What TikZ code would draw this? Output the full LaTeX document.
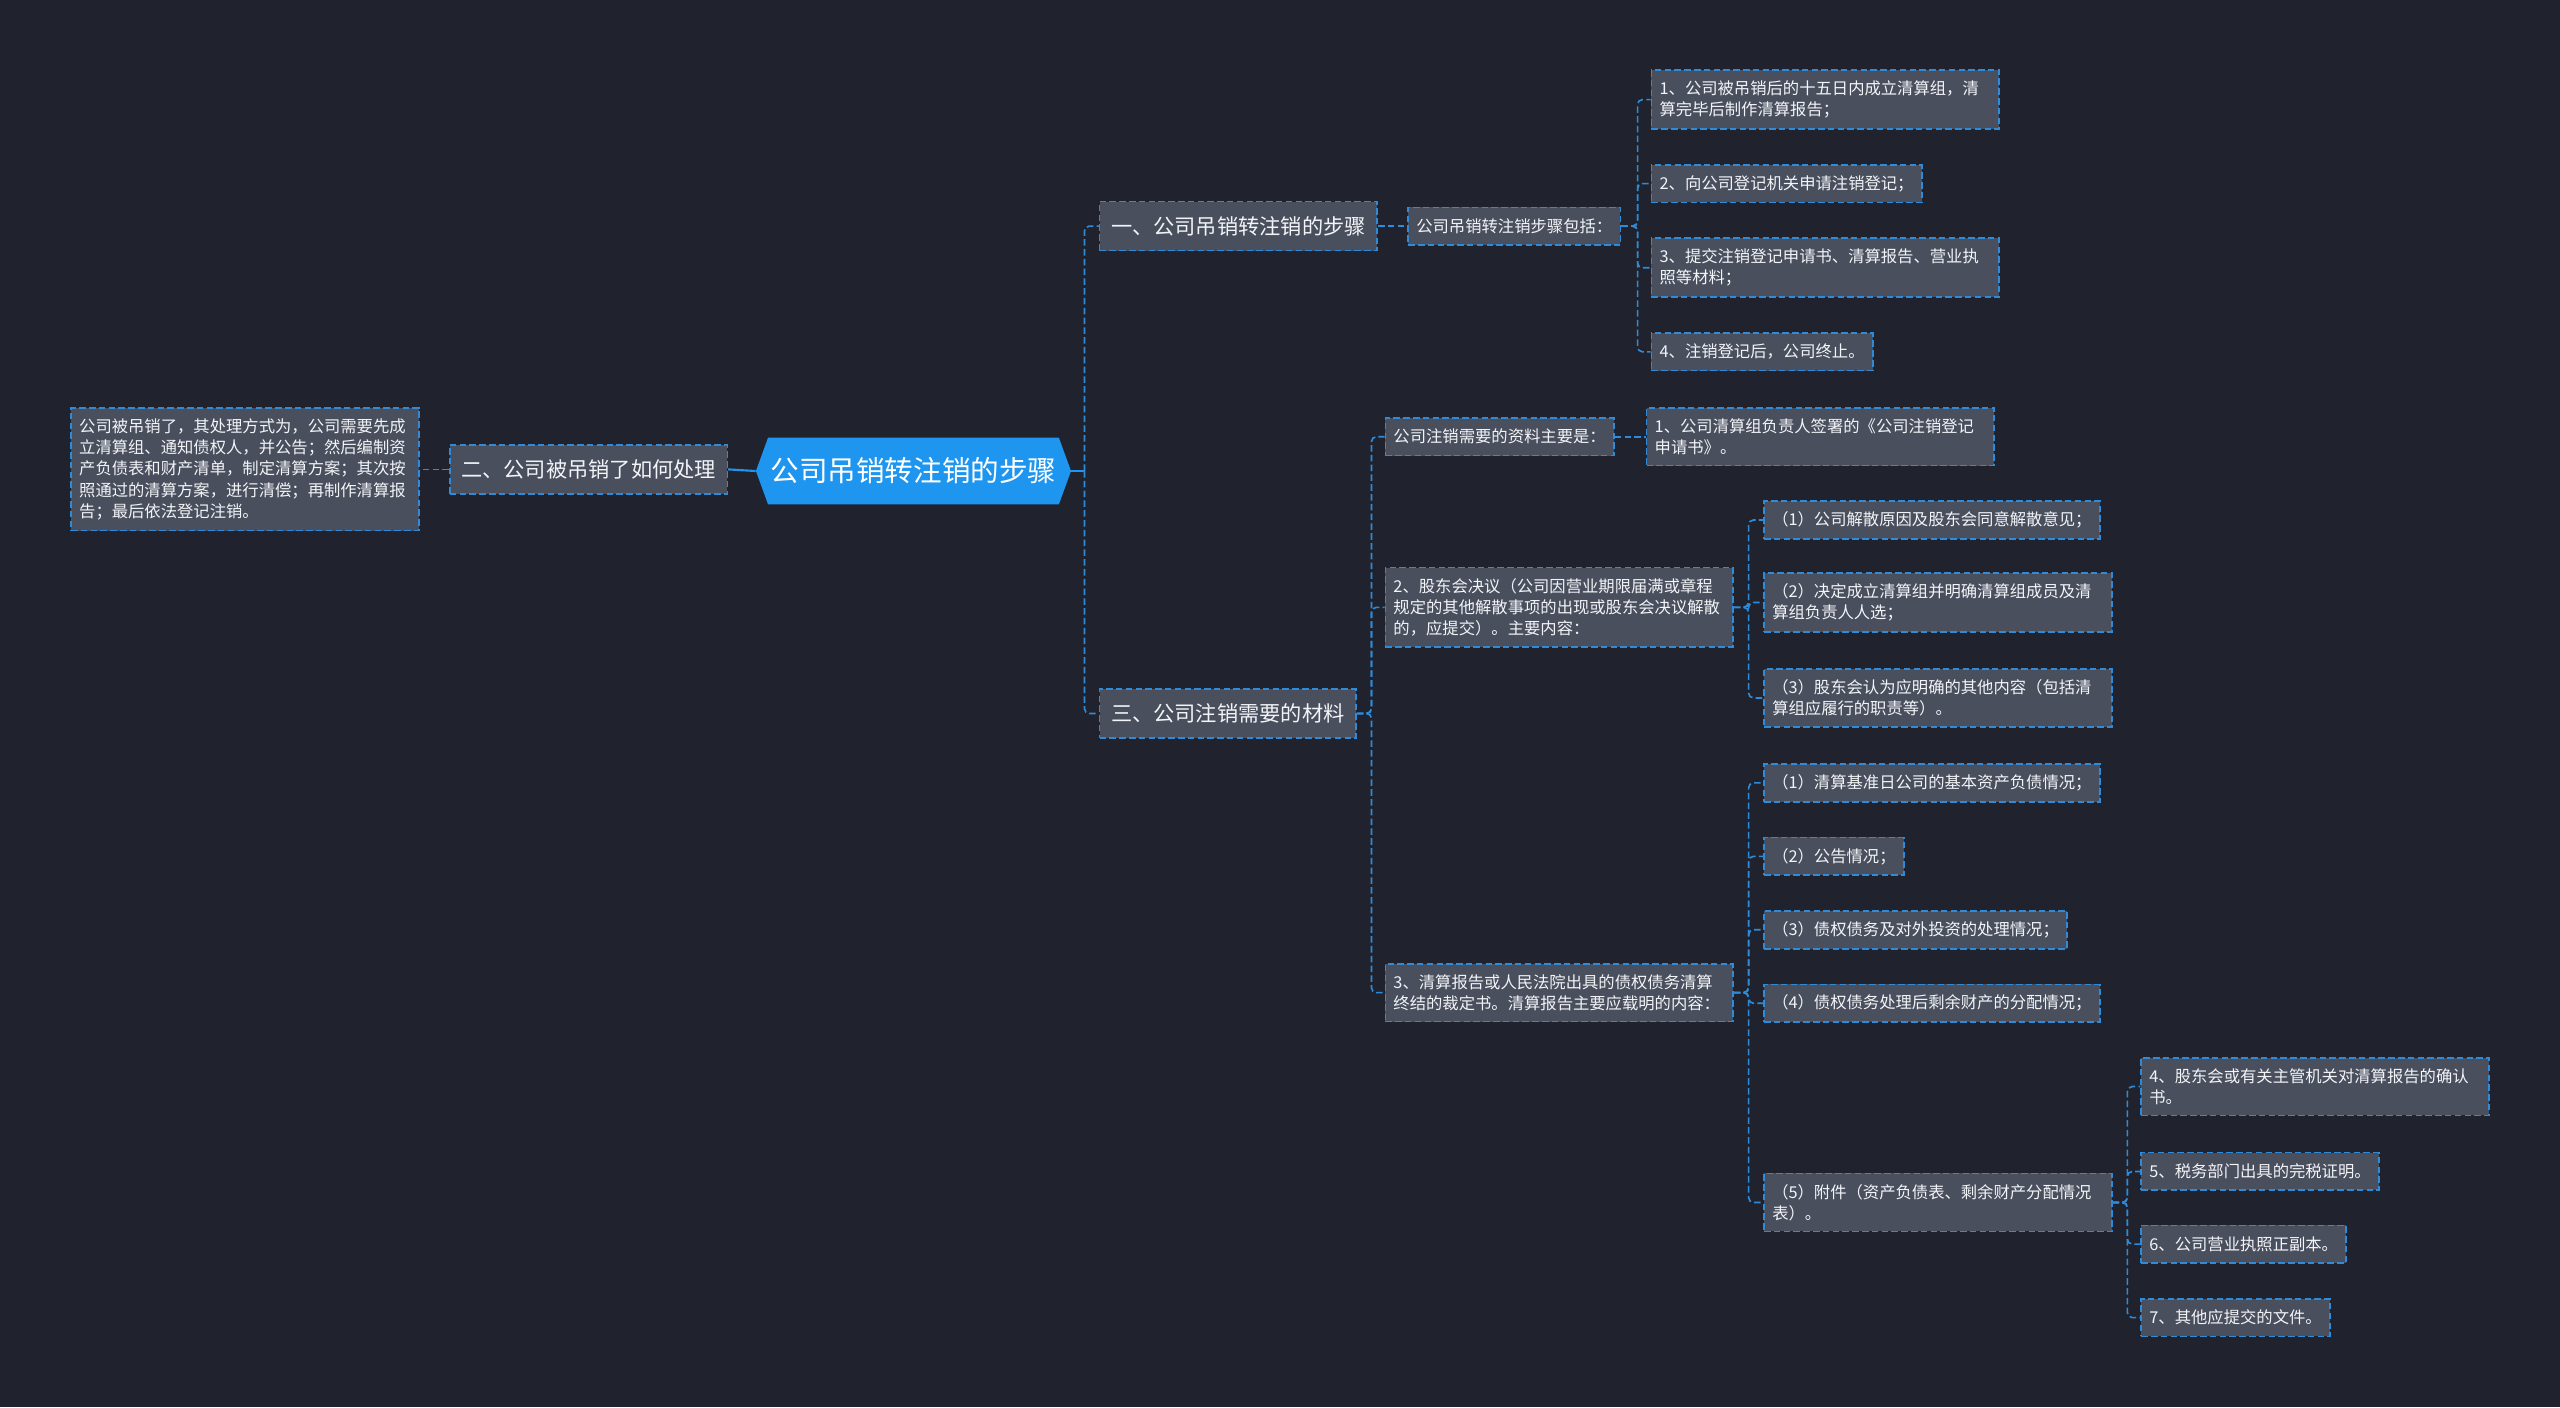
\documentclass[tikz,border=0pt]{standalone}
\usepackage{fontspec}
\setmainfont{Noto Sans CJK SC}
\usetikzlibrary{shapes.symbols, positioning}
\definecolor{bgdark}{HTML}{20232D}
\definecolor{boxgray}{HTML}{4A4F5E}
\definecolor{linkblue}{HTML}{2E8BDA}
\definecolor{rootblue}{HTML}{1E96EF}
\definecolor{textwhite}{HTML}{F2F4F7}
\tikzstyle{central} = [signal, signal to=east and west, signal pointer angle=140, fill=rootblue, text=white, minimum width=193pt, minimum height=41pt, inner sep=0pt, font=\fontsize{17.5}{20}\selectfont]
\tikzstyle{topic} = [rectangle, draw=linkblue, dash pattern=on 4pt off 2pt, line width=1pt, fill=boxgray, text=textwhite, anchor=west, minimum height=30pt, inner xsep=7pt, font=\fontsize{13}{16}\selectfont]
\tikzstyle{leaf} = [rectangle, draw=linkblue, dash pattern=on 4pt off 2pt, line width=1pt, fill=boxgray, text=textwhite, anchor=west, minimum height=23pt, inner xsep=5pt, inner ysep=6.5pt, align=left, font=\fontsize{10}{13}\selectfont]
\tikzstyle{leafwide} = [leaf, text width=203pt]
\tikzstyle{link} = [draw=linkblue, dash pattern=on 4pt off 2pt, line width=1pt, rounded corners=3pt]
\tikzstyle{rootlink} = [draw=rootblue, line width=1.3pt]

\begin{document}
\begin{tikzpicture}[x=1pt, y=-1pt]
    \fill [bgdark] (0,0) rectangle (1568,862);

    % Nodes
    \node (root) [central] at (559.5,288.5) {公司吊销转注销的步骤};

    \node (h2) [topic] at (275,287.5) {二、公司被吊销了如何处理};
    \node (l2) [leafwide] at (43,287.5) {公司被吊销了，其处理方式为，公司需要先成\\立清算组、通知债权人，并公告；然后编制资\\产负债表和财产清单，制定清算方案；其次按\\照通过的清算方案，进行清偿；再制作清算报\\告；最后依法登记注销。};

    \node (h1) [topic] at (673,138.5) {一、公司吊销转注销的步骤};
    \node (s1) [leaf, right=18pt of h1] {公司吊销转注销步骤包括：};
    \node (s1a) [leafwide] at (1011,61) {1、公司被吊销后的十五日内成立清算组，清\\算完毕后制作清算报告；};
    \node (s1b) [leaf] at (1011,112.5) {2、向公司登记机关申请注销登记；};
    \node (s1c) [leafwide] at (1011,164) {3、提交注销登记申请书、清算报告、营业执\\照等材料；};
    \node (s1d) [leaf] at (1011,215.5) {4、注销登记后，公司终止。};

    \node (h3) [topic] at (673,437) {三、公司注销需要的材料};
    \node (m1) [leaf] at (848,267.5) {公司注销需要的资料主要是：};
    \node (m1a) [leafwide, right=19pt of m1] {1、公司清算组负责人签署的《公司注销登记\\申请书》。};

    \node (m2) [leafwide] at (848,372) {2、股东会决议（公司因营业期限届满或章程\\规定的其他解散事项的出现或股东会决议解散\\的，应提交）。主要内容：};
    \node (m2a) [leaf] at (1080,318.5) {（1）公司解散原因及股东会同意解散意见；};
    \node (m2b) [leafwide] at (1080,369) {（2）决定成立清算组并明确清算组成员及清\\算组负责人人选；};
    \node (m2c) [leafwide] at (1080,427.5) {（3）股东会认为应明确的其他内容（包括清\\算组应履行的职责等）。};

    \node (m3) [leafwide] at (848,608) {3、清算报告或人民法院出具的债权债务清算\\终结的裁定书。清算报告主要应载明的内容：};
    \node (m3a) [leaf] at (1080,479.5) {（1）清算基准日公司的基本资产负债情况；};
    \node (m3b) [leaf] at (1080,524.5) {（2）公告情况；};
    \node (m3c) [leaf] at (1080,569.5) {（3）债权债务及对外投资的处理情况；};
    \node (m3d) [leaf] at (1080,614.5) {（4）债权债务处理后剩余财产的分配情况；};
    \node (m3e) [leafwide] at (1080,736.5) {（5）附件（资产负债表、剩余财产分配情况\\表）。};

    \node (p4) [leafwide] at (1311,665.5) {4、股东会或有关主管机关对清算报告的确认\\书。};
    \node (p5) [leaf] at (1311,717.5) {5、税务部门出具的完税证明。};
    \node (p6) [leaf] at (1311,762) {6、公司营业执照正副本。};
    \node (p7) [leaf] at (1311,807) {7、其他应提交的文件。};

    % Arrows
    \draw [rootlink] (root.west) -- (h2.east);
    \draw [link] (h2.west) -- (l2.east);
    \draw [rootlink] (root.east) -- ++(8,0) coordinate (t0);
    \foreach \n in {h1,h3} \draw [link] (t0) |- (\n.west);

    \draw [link] (h1.east) -- (s1.west);
    \foreach \n in {s1a,s1b,s1c,s1d} \draw [link] (s1.east) -- ++(10,0) |- (\n.west);

    \foreach \n in {m1,m2,m3} \draw [link] (h3.east) -- ++(9,0) |- (\n.west);
    \draw [link] (m1.east) -- (m1a.west);
    \foreach \n in {m2a,m2b,m2c} \draw [link] (m2.east) -- ++(9,0) |- (\n.west);
    \foreach \n in {m3a,m3b,m3c,m3d,m3e} \draw [link] (m3.east) -- ++(9,0) |- (\n.west);
    \foreach \n in {p4,p5,p6,p7} \draw [link] (m3e.east) -- ++(9,0) |- (\n.west);
\end{tikzpicture}
\end{document}
